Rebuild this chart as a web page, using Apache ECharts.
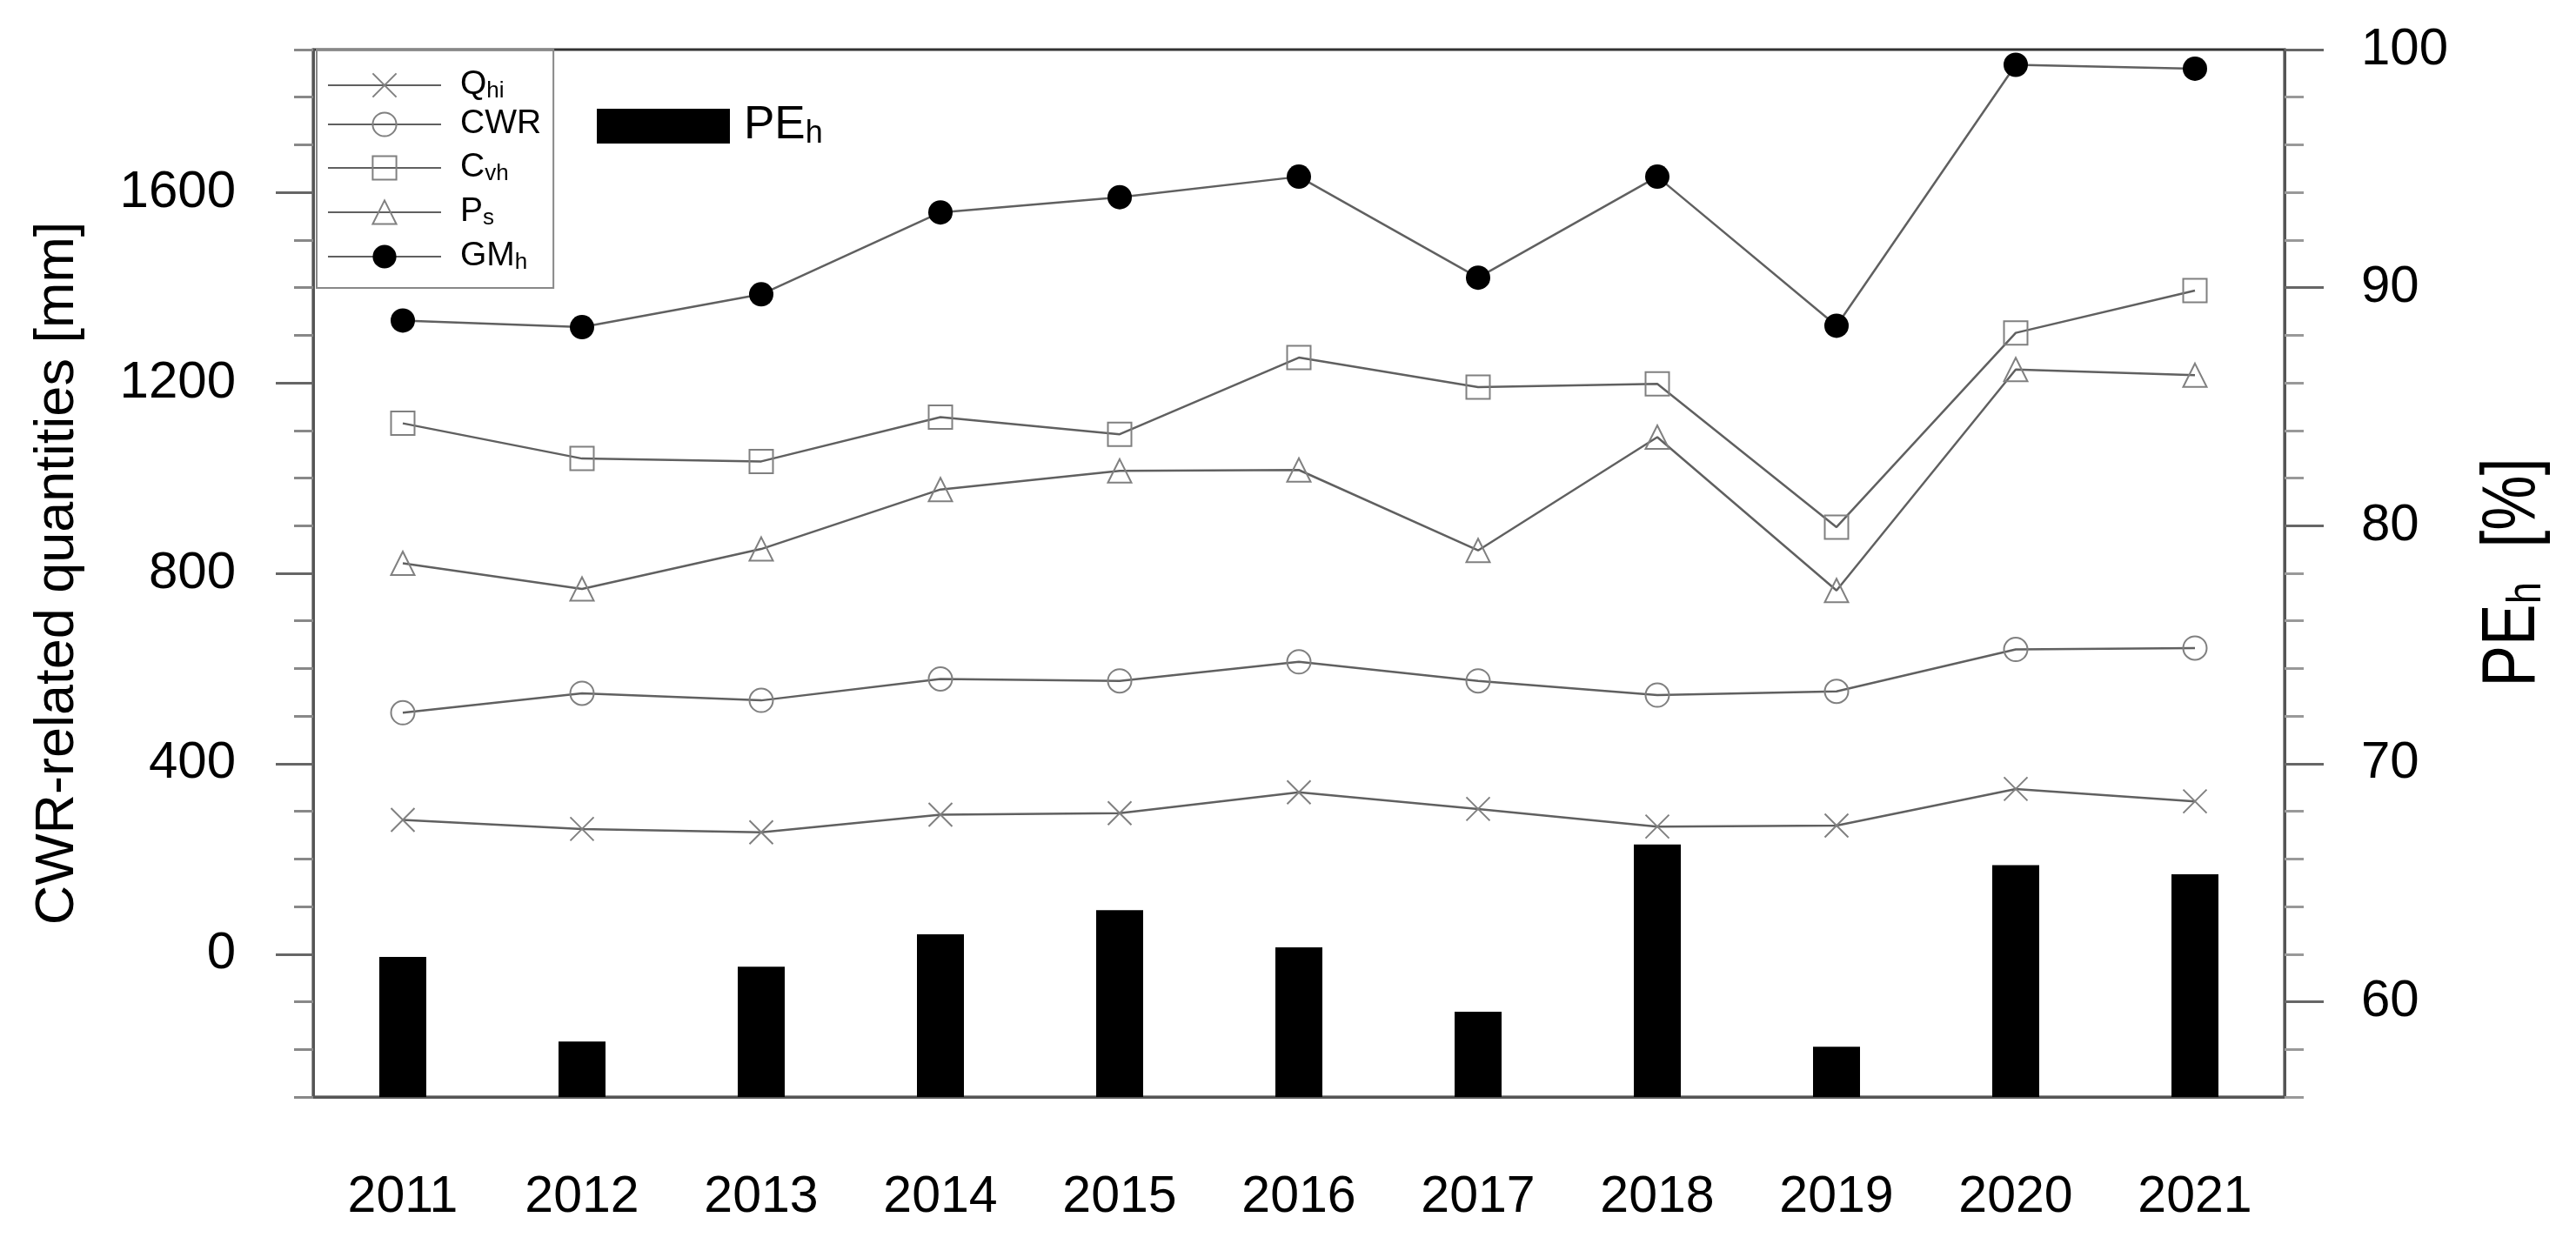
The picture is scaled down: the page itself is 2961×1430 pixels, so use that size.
<!DOCTYPE html>
<html><head><meta charset="utf-8">
<script src="https://cdn.jsdelivr.net/npm/echarts@6/dist/echarts.min.js"></script>
<style>html,body{margin:0;padding:0;background:#fff}#c{width:2961px;height:1430px}</style>
</head><body><div id="c"></div>
<script>
// ---- data ----
const years = ['2011','2012','2013','2014','2015','2016','2017','2018','2019','2020','2021'];
const Qhi = [282, 263, 256, 293, 296, 340, 305, 268, 270, 347, 321];
const CWR = [507, 548, 533, 578, 574, 614, 574, 544, 552, 640, 643];
const Cvh = [1115, 1041, 1035, 1128, 1092, 1253, 1191, 1198, 897, 1305, 1394];
const Ps  = [821, 767, 851, 976, 1015, 1017, 848, 1086, 764, 1228, 1216];
const GMh = [1331, 1317, 1386, 1558, 1590, 1633, 1421, 1633, 1320, 1868, 1860];
const PEh = [61.88, 58.33, 61.47, 62.83, 63.85, 62.29, 59.58, 66.61, 58.11, 65.74, 65.36];
const leftTicks = [0, 400, 800, 1200, 1600];
const leftMinorTicks = [-300,-200,-100,100,200,300,500,600,700,900,1000,1100,1300,1400,1500,1700,1800,1900];
const rightTicks = [60, 70, 80, 90, 100];
const rightMinorTicks = [56,58,62,64,66,68,72,74,76,78,82,84,86,88,92,94,96,98];
const lineNames = ['Q_hi', 'CWR', 'C_vh', 'P_s', 'GM_h'];
const barName = 'PE_h';

const FONT = '"Liberation Sans", Arial, Helvetica, sans-serif';
function richName(n) {
  const p = n.split('_');
  if (p.length === 1) return '{m|' + p[0] + '}';
  return '{m|' + p[0] + '}{s|' + p[1] + '}';
}
const legendRich = {
  m: {fontSize: 39, lineHeight: 40, verticalAlign: 'top', fontFamily: FONT, color: '#000'},
  s: {fontSize: 26, lineHeight: 26, verticalAlign: 'bottom', padding: [20, 0, 0, 0], fontFamily: FONT, color: '#000'}
};
const barLegendRich = {
  m: {fontSize: 53, lineHeight: 54, verticalAlign: 'top', fontFamily: FONT, color: '#000'},
  s: {fontSize: 36, lineHeight: 36, verticalAlign: 'bottom', padding: [26, 0, 0, 0], fontFamily: FONT, color: '#000'}
};

const xPath = 'path://M0,0L20,20M20,0L0,20';
const lineStyle = {color: '#606060', width: 2.5};
const hollow = {color: 'transparent', borderColor: '#808080', borderWidth: 2};

function lineSeries(name, data, symbol, itemStyle, size) {
  return {
    type: 'line', name: name, data: data, yAxisIndex: 0, symbol: symbol,
    symbolSize: size || 27, lineStyle: lineStyle, itemStyle: itemStyle,
    emphasis: {disabled: true}, silent: true, z: 3, animation: false
  };
}
const plain = v => String(v);

const chart = echarts.init(document.getElementById('c'));
chart.setOption({
  backgroundColor: '#fff',
  animation: false,
  textStyle: {fontFamily: FONT},
  grid: {left: 360, right: 335, top: 57, bottom: 169, show: true, borderColor: '#333', borderWidth: 3, containLabel: false},
  legend: [
    {
      data: lineNames, left: 364, top: 57, orient: 'vertical',
      itemWidth: 130, itemHeight: 34, itemGap: 5,
      padding: [15, 14, 16, 12], borderColor: '#888', borderWidth: 2,
      backgroundColor: 'transparent', selectedMode: false,
      textStyle: {fontSize: 39, padding: [0, 0, 0, 17], rich: legendRich, fontFamily: FONT},
      formatter: richName
    },
    {
      data: [{name: barName, icon: 'rect'}], left: 686, top: 110, orient: 'horizontal',
      itemWidth: 153, itemHeight: 40, padding: 0, selectedMode: false,
      textStyle: {fontSize: 53, padding: [0, 0, 0, 11], rich: barLegendRich, fontFamily: FONT},
      formatter: richName
    }
  ],
  graphic: [
    {
      type: 'text', silent: true,
      x: 2889, y: 658,
      rotation: Math.PI / 2, scaleX: 0.81, scaleY: 1,
      style: {
        text: '{m|PE}{s|h}{m|  [%]}',
        align: 'center', verticalAlign: 'middle',
        rich: {
          m: {fontSize: 88, lineHeight: 88, verticalAlign: 'top', fontFamily: FONT, fill: '#000'},
          s: {fontSize: 56, lineHeight: 56, verticalAlign: 'bottom', padding: [42, 0, 0, 0], fontFamily: FONT, fill: '#000'}
        }
      }
    }
  ],
  xAxis: {
    type: 'category', data: years, boundaryGap: true,
    axisLine: {onZero: false, lineStyle: {color: '#555', width: 3}},
    axisTick: {alignWithLabel: true, length: 42, lineStyle: {color: '#111', width: 2}},
    axisLabel: {fontSize: 59, margin: 86, color: '#000', fontFamily: FONT},
    splitLine: {show: false}
  },
  yAxis: [
    {
      type: 'value', position: 'left', min: -300, max: 1900,
      name: 'CWR-related quantities [mm]', nameLocation: 'middle', nameGap: 262, nameRotate: 90,
      nameTextStyle: {fontSize: 63, color: '#000', fontFamily: FONT},
      axisLine: {show: true, onZero: false, lineStyle: {color: '#555', width: 3}},
      axisTick: {show: true, length: 43, customValues: leftTicks, lineStyle: {color: '#666', width: 3}},
      axisLabel: {customValues: leftTicks, formatter: plain, fontSize: 60, margin: 89, color: '#000', fontFamily: FONT},
      splitLine: {show: false}
    },
    {
      type: 'value', position: 'left', min: -300, max: 1900,
      axisLine: {show: false},
      axisTick: {show: true, length: 22, customValues: leftMinorTicks, lineStyle: {color: '#888', width: 3}},
      axisLabel: {show: false},
      splitLine: {show: false}
    },
    {
      type: 'value', position: 'right', min: 56, max: 100,
      axisLine: {show: true, onZero: false, lineStyle: {color: '#555', width: 3}},
      axisTick: {show: true, length: 45, customValues: rightTicks, lineStyle: {color: '#666', width: 3}},
      axisLabel: {customValues: rightTicks, formatter: plain, fontSize: 60, margin: 88, color: '#000', fontFamily: FONT},
      splitLine: {show: false}
    },
    {
      type: 'value', position: 'right', min: 56, max: 100,
      axisLine: {show: false},
      axisTick: {show: true, length: 22, customValues: rightMinorTicks, lineStyle: {color: '#999', width: 3}},
      axisLabel: {show: false},
      splitLine: {show: false}
    }
  ],
  series: [
    {
      type: 'bar', name: barName, data: PEh, yAxisIndex: 2, barWidth: 54,
      itemStyle: {color: '#000'}, emphasis: {disabled: true}, silent: true, z: 1
    },
    lineSeries('Q_hi', Qhi, xPath, hollow),
    lineSeries('CWR', CWR, 'circle', hollow),
    lineSeries('C_vh', Cvh, 'rect', hollow),
    lineSeries('P_s', Ps, 'triangle', hollow),
    lineSeries('GM_h', GMh, 'circle', {color: '#000', borderWidth: 0}, 28)
  ]
});
</script></body></html>
